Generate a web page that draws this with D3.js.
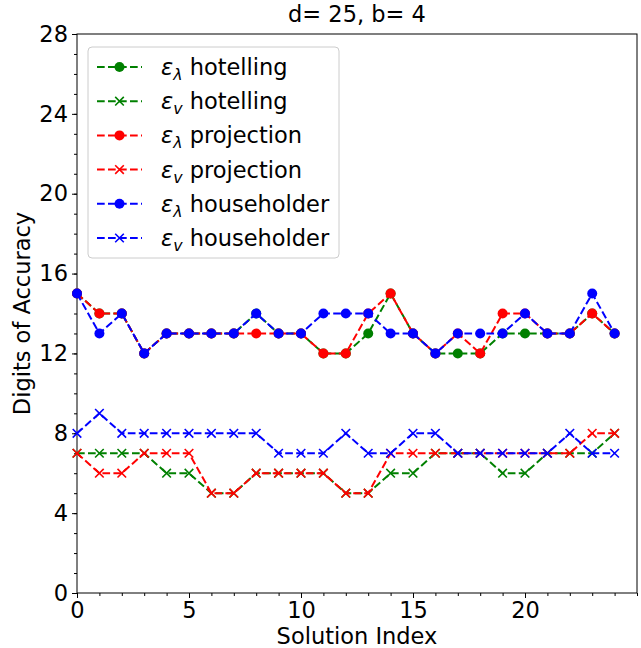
<!DOCTYPE html>
<html><head><meta charset="utf-8">
<script src="https://cdn.jsdelivr.net/npm/d3@7"></script>
<style>
body{margin:0;background:#fff}
text{font-family:"DejaVu Sans",sans-serif;fill:#000}
</style></head>
<body><svg id="chart" width="641" height="648"></svg>
<script>
const solutionIndex = [0,1,2,3,4,5,6,7,8,9,10,11,12,13,14,15,16,17,18,19,20,21,22,23,24];
const hotellingLambda   = [15,14,14,12,13,13,13,13,14,13,13,12,12,13,15,13,12,12,12,13,13,13,13,14,13];
const hotellingV        = [7,7,7,7,6,6,5,5,6,6,6,6,5,5,6,6,7,7,7,6,6,7,7,7,8];
const projectionLambda  = [15,14,14,12,13,13,13,13,13,13,13,12,12,14,15,13,12,13,12,14,14,13,13,14,13];
const projectionV       = [7,6,6,7,7,7,5,5,6,6,6,6,5,5,7,7,7,7,7,7,7,7,7,8,8];
const householderLambda = [15,13,14,12,13,13,13,13,14,13,13,14,14,14,13,13,12,13,13,13,14,13,13,15,13];
const householderV      = [8,9,8,8,8,8,8,8,8,7,7,7,8,7,7,8,8,7,7,7,7,7,8,7,7];
const xTicks = [0,5,10,15,20];
const yTicks = [0,4,8,12,16,20,24,28];
const titleText = "d= 25, b= 4";

const series = [
  {sym:"λ", name:"hotelling",   color:"green", marker:"o", values:hotellingLambda},
  {sym:"v", name:"hotelling",   color:"green", marker:"x", values:hotellingV},
  {sym:"λ", name:"projection",  color:"red",   marker:"o", values:projectionLambda},
  {sym:"v", name:"projection",  color:"red",   marker:"x", values:projectionV},
  {sym:"λ", name:"householder", color:"blue",  marker:"o", values:householderLambda},
  {sym:"v", name:"householder", color:"blue",  marker:"x", values:householderV}
];

const L=77,R=637,T=34,B=593;
const svg=d3.select("#chart");
const x=d3.scaleLinear().domain([0,25]).range([L,R]);
const y=d3.scaleLinear().domain([0,28]).range([B,T]);
const FS=22.5;
const dash="7.7,3.3";

// axes
const xAxis=svg.append("g").attr("transform",`translate(0,${B})`)
  .call(d3.axisBottom(x).tickValues(xTicks).tickSize(5).tickPadding(4).tickFormat(d3.format("d")));
const xMinor=svg.append("g").attr("transform",`translate(0,${B})`)
  .call(d3.axisBottom(x).tickValues(d3.range(0,26)).tickSize(3).tickFormat(""));
const yAxis=svg.append("g").attr("transform",`translate(${L},0)`)
  .call(d3.axisLeft(y).tickValues(yTicks).tickSize(5).tickPadding(4).tickFormat(d3.format("d")));
const yMinor=svg.append("g").attr("transform",`translate(${L},0)`)
  .call(d3.axisLeft(y).tickValues(d3.range(0,29)).tickSize(3).tickFormat(""));
[xAxis,xMinor,yAxis,yMinor].forEach(g=>{
  g.select(".domain").remove();
  g.selectAll("line").attr("stroke","#000").attr("stroke-width",1);
  g.selectAll("text").attr("font-size",FS).attr("font-family","DejaVu Sans");
});
// frame
svg.append("rect").attr("x",L).attr("y",T).attr("width",R-L).attr("height",B-T)
  .attr("fill","none").attr("stroke","#000").attr("stroke-width",1);

const plot=svg.append("g");
const line=d3.line().x((d,i)=>x(solutionIndex[i])).y(d=>y(d));

function drawMarker(g,type,cx,cy,color,s){
  if(type==="o"){
    g.append("circle").attr("cx",cx).attr("cy",cy).attr("r",s).attr("fill",color);
  } else {
    g.append("path").attr("d",`M${cx-s},${cy-s}L${cx+s},${cy+s}M${cx-s},${cy+s}L${cx+s},${cy-s}`)
      .attr("stroke",color).attr("stroke-width",1.6).attr("fill","none");
  }
}

series.forEach(s=>{
  const g=plot.append("g");
  g.append("path").datum(s.values).attr("d",line).attr("fill","none")
    .attr("stroke",s.color).attr("stroke-width",2).attr("stroke-dasharray",dash);
  s.values.forEach((v,i)=>drawMarker(g,s.marker,x(solutionIndex[i]),y(v),s.color,s.marker==="o"?5:4.3));
});

// title and labels
svg.append("text").attr("x",(L+R)/2).attr("y",22).attr("text-anchor","middle").attr("font-size",FS).text(titleText);
svg.append("text").attr("x",(L+R)/2).attr("y",644).attr("text-anchor","middle").attr("font-size",FS).text("Solution Index");
svg.append("text").attr("transform",`translate(30,${(T+B)/2}) rotate(-90)`).attr("text-anchor","middle").attr("font-size",FS).text("Digits of Accuracy");

// legend
const lg=svg.append("g");
lg.append("rect").attr("x",88).attr("y",47).attr("width",251).attr("height",211).attr("rx",4)
  .attr("fill","#fff").attr("fill-opacity",0.8).attr("stroke","#ccc").attr("stroke-width",1);
series.forEach((s,i)=>{
  const cy=67+i*34.2;
  lg.append("line").attr("x1",97).attr("x2",142).attr("y1",cy).attr("y2",cy)
    .attr("stroke",s.color).attr("stroke-width",2).attr("stroke-dasharray",dash);
  drawMarker(lg,s.marker,119.5,cy,s.color,s.marker==="o"?5:4.3);
  const t=lg.append("text").attr("x",161).attr("y",cy+8).attr("font-size",FS);
  t.append("tspan").attr("font-style","italic").text("ε");
  t.append("tspan").attr("font-style","italic").attr("font-size",FS*0.7).attr("dy",5).text(s.sym);
  t.append("tspan").attr("dy",-5).text(" "+s.name);
});
</script></body></html>
